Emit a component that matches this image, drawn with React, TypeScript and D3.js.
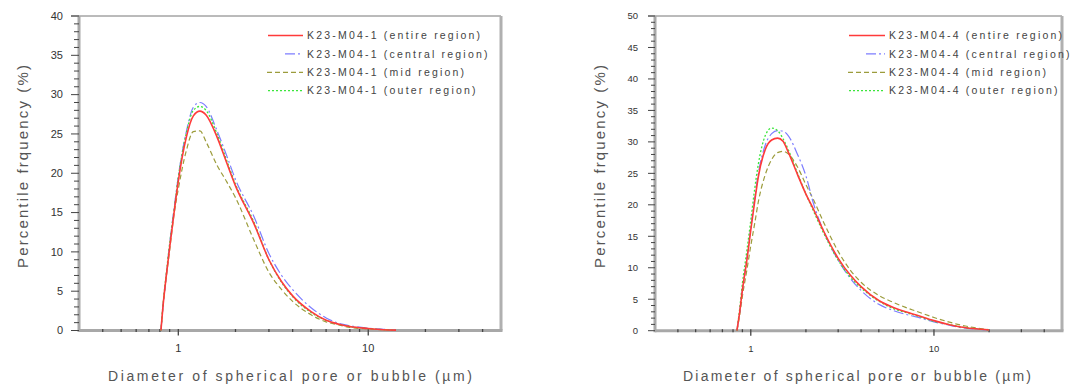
import React from 'react'
import * as d3 from 'd3'

// left panel: K23-M04-1
const diamLeft = [0.81, 0.83, 0.86, 0.9, 0.95, 1.0, 1.1, 1.2, 1.3, 1.4, 1.6, 1.8, 2.0, 2.5, 3.0, 3.5, 4.0, 5, 6, 7, 8, 10, 12, 14]
const entireLeft = [0, 3, 6.5, 10.5, 15, 19, 24.5, 27.3, 27.9, 27.4, 24.6, 21.3, 18.4, 13.6, 9, 6.2, 4.4, 2.4, 1.3, 0.8, 0.5, 0.25, 0.1, 0.05]
const centralLeft = [0, 3, 6.5, 11, 15.5, 19.6, 25.2, 28.4, 29, 28.5, 25.4, 22.2, 19.2, 14.5, 9.8, 7, 5.2, 2.9, 1.6, 0.9, 0.6, 0.3, 0.15, 0.05]
const midLeft = [0, 3, 6.3, 10.2, 14.8, 18, 22.8, 25.3, 25.4, 24, 21, 18.9, 16.9, 11.5, 7.4, 5.2, 3.7, 2, 1.1, 0.7, 0.4, 0.2, 0.1, 0.05]
const outerLeft = [0, 3.2, 6.8, 11, 15.3, 19.5, 25, 28, 28.5, 28, 25, 21.6, 18.6, 13.8, 9, 6.1, 4.3, 2.3, 1.3, 0.8, 0.5, 0.25, 0.1, 0.05]

// right panel: K23-M04-4
const diamRight = [0.84, 0.87, 0.9, 0.95, 1.0, 1.05, 1.1, 1.2, 1.3, 1.4, 1.5, 1.6, 1.8, 2.0, 2.2, 2.5, 3, 3.5, 4, 5, 6, 7, 8, 10, 12, 14, 17, 20]
const entireRight = [0, 3, 6.5, 11, 16, 20.5, 24.5, 28.8, 30.3, 30.6, 30.1, 28.4, 24.8, 21.7, 19.3, 15.8, 11.5, 8.8, 7, 4.8, 3.7, 3, 2.5, 1.6, 1, 0.6, 0.3, 0.1]
const centralRight = [0, 3, 6.5, 11.3, 16.3, 21, 25, 29.5, 31.3, 31.8, 31.7, 31, 28, 24.6, 20.2, 15.8, 11.2, 8.3, 6.4, 4.2, 3.2, 2.6, 2.2, 1.4, 0.9, 0.5, 0.25, 0.1]
const midRight = [0, 2.5, 5.5, 9.5, 13.5, 17, 20.5, 24.8, 27.2, 28.3, 28.5, 28.1, 26, 23.2, 20.8, 17.2, 12.6, 9.6, 7.7, 5.6, 4.5, 3.7, 3.1, 2.1, 1.4, 0.9, 0.45, 0.15]
const outerRight = [0, 3.5, 7.5, 12.5, 17.5, 22.5, 26.5, 31, 32.2, 31.8, 30.5, 28.8, 25, 21.7, 19, 15.5, 11.2, 8.5, 6.8, 4.7, 3.5, 2.9, 2.4, 1.5, 1, 0.6, 0.3, 0.1]

const legendLeft = ['K23-M04-1 (entire region)', 'K23-M04-1 (central region)', 'K23-M04-1 (mid region)', 'K23-M04-1 (outer region)']
const legendRight = ['K23-M04-4 (entire region)', 'K23-M04-4 (central region)', 'K23-M04-4 (mid region)', 'K23-M04-4 (outer region)']

const yTicksLeft = [0, 5, 10, 15, 20, 25, 30, 35, 40]
const yTicksRight = [0, 5, 10, 15, 20, 25, 30, 35, 40, 45, 50]
const xTickLabels = [1, 10]
const xDomain = [0.3, 50]

const styles = [
  { color: '#ff3a3a', dash: null, width: 1.6, legendFrom: 268 },
  { color: '#7d7dff', dash: '10,3,2,3', width: 1.2, legendFrom: 285 },
  { color: '#9c9c3c', dash: '5,3', width: 1.2, legendFrom: 267 },
  { color: '#3ce63c', dash: '2,2', width: 1.3, legendFrom: 268 },
]

const font = '"Liberation Sans", Arial, sans-serif'

type PanelProps = {
  x0: number; x1: number; top: number; bottom: number
  yMax: number; yTicks: number[]
  diam: number[]; series: number[][]; legend: string[]
  legendX: number; legendTextX: number
  tickFont: number; tickLabelX: number
  xTitleX: number; xTitleLen: number
  yTitleX: number
  majorLen: number; minorLen: number
}

function Panel(p: PanelProps) {
  const x = d3.scaleLog().domain(xDomain).range([p.x0, p.x1])
  const y = d3.scaleLinear().domain([0, p.yMax]).range([p.bottom, p.top])
  const line = d3.line<number>()
    .x((_, i) => x(p.diam[i]))
    .y(d => y(d))
    .curve(d3.curveMonotoneX)

  const minorY = d3.range(0, p.yMax + 1, 1)
  const minorX = x.ticks().filter(v => v > xDomain[0] && v < xDomain[1] && !xTickLabels.includes(v))
  const drawOrder = [2, 1, 3, 0]
  const dx = p.legendX - 267

  return (
    <g>
      {/* frame */}
      <line x1={p.x0 - p.majorLen} x2={p.x1} y1={p.top} y2={p.top} stroke="#777" strokeWidth={1} />
      <line x1={p.x1} x2={p.x1} y1={p.top} y2={p.bottom} stroke="#b0b0b0" strokeWidth={3} />
      <line x1={p.x0} x2={p.x0} y1={p.top} y2={p.bottom + 1.5} stroke="#a8a8a8" strokeWidth={3} />
      <line x1={p.x0} x2={p.x1 + 1.5} y1={p.bottom} y2={p.bottom} stroke="#a8a8a8" strokeWidth={3} />

      {/* y ticks */}
      {minorY.map(v => (
        <line key={'ym' + v} x1={p.x0 - (v % 5 === 0 ? p.majorLen : p.minorLen)} x2={p.x0}
          y1={y(v)} y2={y(v)} stroke="#444" strokeWidth={1} />
      ))}
      {p.yTicks.map(v => (
        <text key={'yl' + v} x={p.tickLabelX} y={y(v)} dy="0.35em" textAnchor="end"
          fontSize={p.tickFont} fill="#333" fontFamily={font}>{v}</text>
      ))}

      {/* x ticks */}
      {minorX.map(v => (
        <line key={'xm' + v} x1={x(v)} x2={x(v)} y1={p.bottom - 1.5} y2={p.bottom + 1.5} stroke="#444" strokeWidth={1.3} />
      ))}
      {xTickLabels.map(v => (
        <g key={'xl' + v}>
          <line x1={x(v)} x2={x(v)} y1={p.bottom - 1.5} y2={p.bottom + 5} stroke="#444" strokeWidth={1.3} />
          <text x={x(v)} y={p.bottom + 21} textAnchor="middle" fontSize={p.tickFont}
            fill="#333" fontFamily={font}>{v}</text>
        </g>
      ))}

      {/* curves */}
      {drawOrder.map(i => (
        <path key={'s' + i} d={line(p.series[i]) || ''} fill="none" stroke={styles[i].color}
          strokeWidth={styles[i].width} strokeDasharray={styles[i].dash || undefined} />
      ))}

      {/* legend */}
      {p.legend.map((t, i) => {
        const ly = 35.5 + i * 18.4
        return (
          <g key={'lg' + i}>
            <line x1={styles[i].legendFrom + dx} x2={p.legendTextX - 4} y1={ly} y2={ly}
              stroke={styles[i].color} strokeWidth={styles[i].width}
              strokeDasharray={styles[i].dash || undefined} />
            <text x={p.legendTextX} y={ly} dy="0.35em" fontSize={10.5} letterSpacing={2.2}
              fill="#444" fontFamily={font}>{t}</text>
          </g>
        )
      })}

      {/* axis titles */}
      <text x={p.xTitleX} y={381} textAnchor="middle" fontSize={14} fill="#555" fontFamily={font}
        textLength={p.xTitleLen} lengthAdjust="spacing">Diameter of spherical pore or bubble (µm)</text>
      <text transform={`translate(${p.yTitleX},166.5) rotate(-90)`} textAnchor="middle" fontSize={15}
        fill="#555" fontFamily={font} textLength={203} lengthAdjust="spacing">Percentile frquency (%)</text>
    </g>
  )
}

export default function App() {
  return (
    <svg width={1083} height={392} style={{ position: 'absolute', left: 0, top: 0, background: '#fff' }}>
      <rect width={1083} height={392} fill="#fff" />
      <Panel x0={79} x1={501} top={16} bottom={330.5} yMax={40} yTicks={yTicksLeft}
        diam={diamLeft} series={[entireLeft, centralLeft, midLeft, outerLeft]} legend={legendLeft}
        legendX={267} legendTextX={307} tickFont={11} tickLabelX={63}
        xTitleX={290} xTitleLen={364} yTitleX={28} majorLen={8} minorLen={5} />
      <Panel x0={655} x1={1062} top={16} bottom={330.7} yMax={50} yTicks={yTicksRight}
        diam={diamRight} series={[entireRight, centralRight, midRight, outerRight]} legend={legendRight}
        legendX={848} legendTextX={889} tickFont={9.5} tickLabelX={638}
        xTitleX={857} xTitleLen={348} yTitleX={605} majorLen={7} minorLen={4} />
    </svg>
  )
}
